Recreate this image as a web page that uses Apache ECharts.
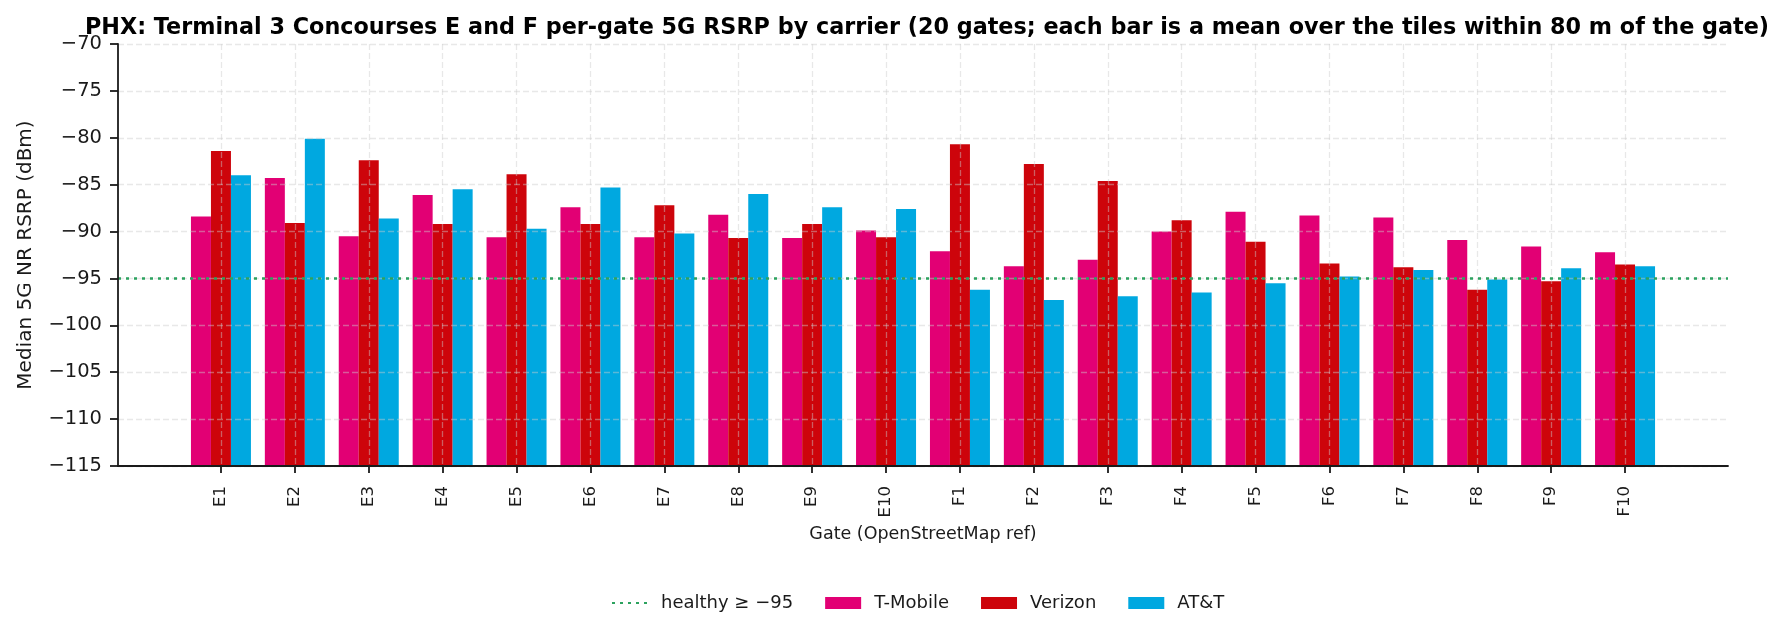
<!DOCTYPE html>
<html>
<head>
<meta charset="utf-8">
<script src="https://cdn.jsdelivr.net/npm/echarts@6/dist/echarts.min.js"></script>
<style>
  html, body { margin: 0; padding: 0; background: #fff; }
  #chart { width: 1779px; height: 633px; }
</style>
</head>
<body>
<div id="chart"></div>
<script>
const gates = ["E1", "E2", "E3", "E4", "E5", "E6", "E7", "E8", "E9", "E10",
  "F1", "F2", "F3", "F4", "F5", "F6", "F7", "F8", "F9", "F10"];
const tmobile = [-88.4, -84.3, -90.5, -86.1, -90.6, -87.4, -90.6, -88.2, -90.7, -89.9,
  -92.1, -93.7, -93.0, -90.0, -87.9, -88.3, -88.5, -90.9, -91.6, -92.2];
const verizon = [-81.4, -89.1, -82.4, -89.2, -83.9, -89.2, -87.2, -90.7, -89.2, -90.6,
  -80.7, -82.8, -84.6, -88.8, -91.1, -93.4, -93.8, -96.2, -95.3, -93.5];
const att = [-84.0, -80.1, -88.6, -85.5, -89.7, -85.3, -90.2, -86.0, -87.4, -87.6,
  -96.2, -97.3, -96.9, -96.5, -95.5, -94.8, -94.1, -95.1, -93.9, -93.7];
const healthy = -95;
const yTicks = { min: -115, max: -70, step: 5 };

const font = "DejaVu Sans";
const ink = "#1a1a1a";
const gridLine = { color: "rgba(205,205,205,0.45)", width: 1.3, type: [6, 3] };

const chart = echarts.init(document.getElementById("chart"));

chart.setOption({
  animation: false,
  textStyle: { fontFamily: font },
  title: {
    text: "PHX: Terminal 3 Concourses E and F per-gate 5G RSRP by carrier (20 gates; each bar is a mean over the tiles within 80 m of the gate)",
    left: 922,
    textAlign: "center",
    top: 12,
    textStyle: { fontFamily: font, fontSize: 22.3, fontWeight: "bold", color: "#000" },
  },
  legend: {
    left: 606,
    top: 589,
    itemWidth: 36,
    itemHeight: 12,
    itemGap: 32,
    textStyle: { fontFamily: font, fontSize: 18, color: ink, padding: [0, 0, 0, 8] },
    data: [
      { name: "healthy ≥ −95", itemStyle: { opacity: 0 } },
      { name: "T-Mobile", icon: "rect" },
      { name: "Verizon", icon: "rect" },
      { name: "AT&T", icon: "rect" },
    ],
  },
  grid: [
    // outer frame: y axis, horizontal grid, bottom spine, threshold line
    { left: 118, right: 51, top: 44, bottom: 167 },
    // bars
    { left: 184, right: 117, top: 44, bottom: 167 },
  ],
  xAxis: [
    {
      gridIndex: 0, type: "value", min: 0, max: 1, z: 8,
      axisLine: { show: true, onZero: false, lineStyle: { color: ink, width: 1.8 } },
      axisTick: { show: false }, axisLabel: { show: false }, splitLine: { show: false },
    },
    {
      gridIndex: 1, type: "category", data: gates, z: 5,
      axisLine: { show: false },
      axisTick: { show: true, alignWithLabel: true, length: 7, lineStyle: { color: ink, width: 1.8 } },
      axisLabel: { rotate: 90, margin: 20, fontSize: 16.5, color: ink, fontFamily: font },
      splitLine: { show: true, alignWithLabel: true, lineStyle: gridLine },
      name: "Gate (OpenStreetMap ref)",
      nameLocation: "middle",
      nameGap: 57,
      nameTextStyle: { fontSize: 17.5, color: ink, fontFamily: font },
    },
  ],
  yAxis: [
    {
      gridIndex: 0, type: "value", min: yTicks.min, max: yTicks.max, interval: yTicks.step, z: 5,
      axisLine: { show: true, onZero: false, lineStyle: { color: ink, width: 1.8 } },
      axisTick: { show: true, length: 8, lineStyle: { color: ink, width: 1.8 } },
      axisLabel: {
        margin: 16, fontSize: 19.5, color: ink, fontFamily: font,
        formatter: (v) => String(v).replace("-", "\u2212"),
      },
      splitLine: { show: true, lineStyle: gridLine },
      name: "Median 5G NR RSRP (dBm)",
      nameLocation: "middle",
      nameGap: 82,
      nameTextStyle: { fontSize: 20, color: ink, fontFamily: font },
    },
    {
      gridIndex: 1, type: "value", min: yTicks.min, max: yTicks.max, interval: yTicks.step,
      startValue: yTicks.min,
      axisLine: { show: false }, axisTick: { show: false }, axisLabel: { show: false },
      splitLine: { show: false },
    },
  ],
  series: [
    {
      name: "healthy ≥ −95",
      type: "line",
      xAxisIndex: 0, yAxisIndex: 0,
      data: [],
      symbol: "none",
      z: 6,
      lineStyle: { color: "#2ca25f", width: 2.6, type: [3, 5] },
      itemStyle: { color: "#2ca25f" },
      markLine: {
        silent: true,
        symbol: "none",
        label: { show: false },
        lineStyle: { color: "#2ca25f", width: 2.6, type: [3, 5] },
        data: [{ yAxis: healthy }],
      },
    },
    {
      name: "T-Mobile", type: "bar", xAxisIndex: 1, yAxisIndex: 1,
      data: tmobile, barWidth: 20, barGap: "0%",
      itemStyle: { color: "#E20074" },
    },
    {
      name: "Verizon", type: "bar", xAxisIndex: 1, yAxisIndex: 1,
      data: verizon, barWidth: 20, barGap: "0%",
      itemStyle: { color: "#CD040B" },
    },
    {
      name: "AT&T", type: "bar", xAxisIndex: 1, yAxisIndex: 1,
      data: att, barWidth: 20, barGap: "0%",
      itemStyle: { color: "#00A8E0" },
    },
  ],
});
</script>
</body>
</html>
